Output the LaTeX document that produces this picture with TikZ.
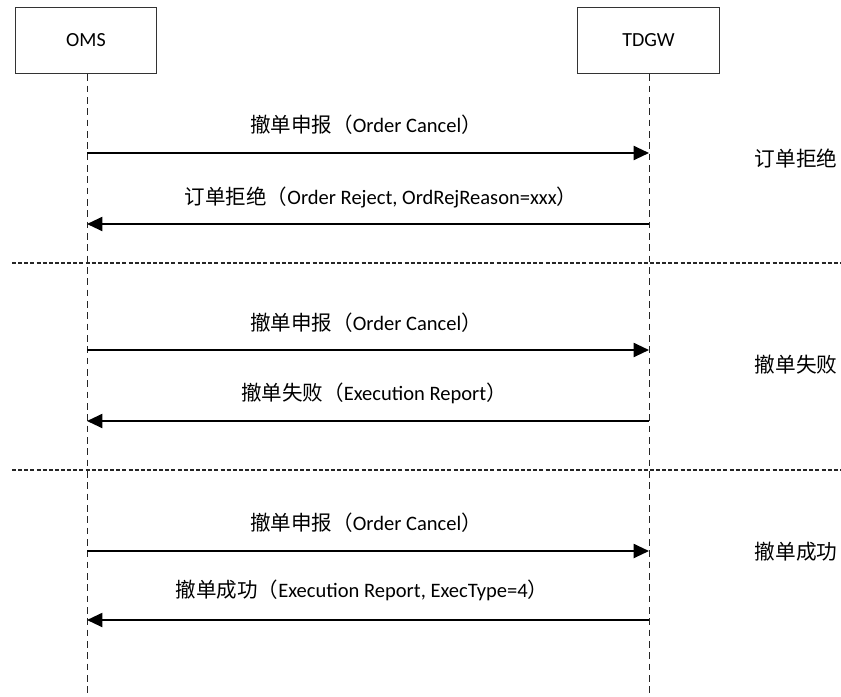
\documentclass[tikz,border=0pt]{standalone}
\usepackage{fontspec}
\setmainfont{Carlito}
\newfontfamily\cjk{Noto Sans CJK SC}
\usetikzlibrary{arrows.meta}
\begin{document}
\begin{tikzpicture}[x=0.75pt,y=-0.75pt,
  actor/.style={draw=black!80,line width=0.8pt,minimum width=106pt,minimum height=50pt,inner sep=0pt,font=\fontsize{15}{17}\selectfont},
  life/.style={draw=black!85,line width=0.7pt,dash pattern=on 5pt off 3.5pt},
  sep/.style={draw=black!85,line width=1pt,dash pattern=on 3pt off 1.6pt},
  msg/.style={draw=black,line width=1.5pt,-{Triangle[length=11.5pt,width=10.5pt]}},
  lbl/.style={font=\fontsize{15.4}{17}\selectfont,inner sep=0pt},
  side/.style={font=\fontsize{15.5}{17}\selectfont,inner sep=0pt}]
\useasboundingbox (0,0) rectangle (841,696);
\node[actor] (oms) at (86,40.5) {OMS};
\node[actor] (tdgw) at (648.5,40.5) {TDGW};
\coordinate (omsEnd) at (87,696);
\coordinate (tdgwEnd) at (649,696);
\draw[life] (oms.south -| omsEnd) -- (omsEnd);
\draw[life] (tdgw.south -| tdgwEnd) -- (tdgwEnd);
% separators
\coordinate (s1a) at (12,263); \coordinate (s1b) at (841,263);
\coordinate (s2a) at (12,470); \coordinate (s2b) at (841,470);
\draw[sep] (s1a) -- (s1b);
\draw[sep] (s2a) -- (s2b);
% messages
\foreach \n/\y in {a/153,b/224,c/350,d/421,e/551,f/620}{
  \coordinate (L\n) at (87,\y);
  \coordinate (R\n) at (649,\y);
}
\draw[msg] (La) -- (Ra);
\draw[msg] (Rb) -- (Lb);
\draw[msg] (Lc) -- (Rc);
\draw[msg] (Rd) -- (Ld);
\draw[msg] (Le) -- (Re);
\draw[msg] (Rf) -- (Lf);
\node[lbl] (ta) at (366,125) {{\cjk 撤单申报（}Order Cancel{\cjk ）}};
\node[lbl] (tb) at (381,197) {{\cjk 订单拒绝（}Order Reject, OrdRejReason=xxx{\cjk ）}};
\node[lbl] (tc) at (366,323) {{\cjk 撤单申报（}Order Cancel{\cjk ）}};
\node[lbl] (td) at (374,393) {{\cjk 撤单失败（}Execution Report{\cjk ）}};
\node[lbl] (te) at (366,523) {{\cjk 撤单申报（}Order Cancel{\cjk ）}};
\node[lbl] (tf) at (362,590) {{\cjk 撤单成功（}Execution Report, ExecType=4{\cjk ）}};
\node[side] (ga) at (796,159) {\cjk 订单拒绝};
\node[side] (gb) at (796,365) {\cjk 撤单失败};
\node[side] (gc) at (796,552) {\cjk 撤单成功};
\end{tikzpicture}
\end{document}
